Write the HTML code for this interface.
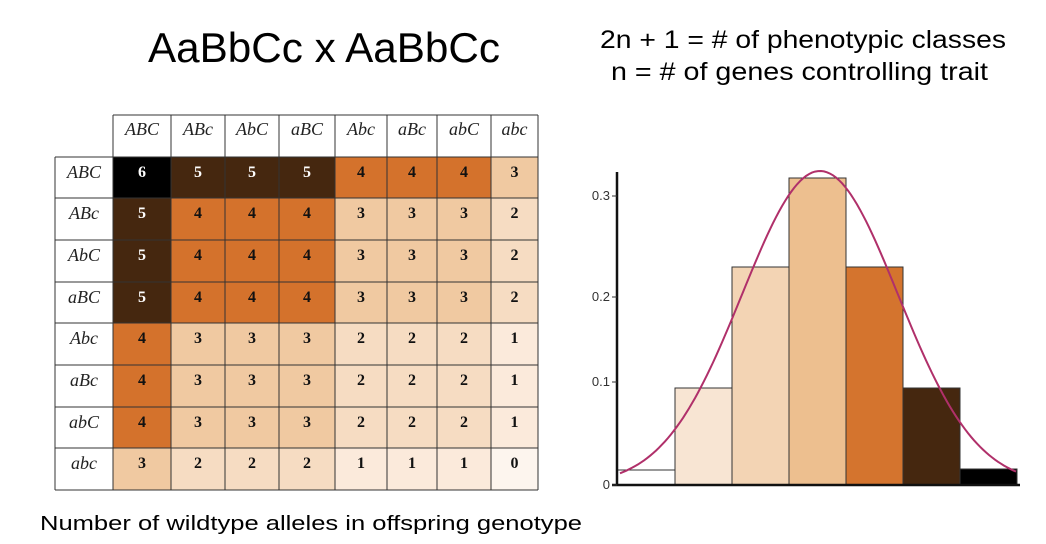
<!DOCTYPE html>
<html><head><meta charset="utf-8"><style>
html,body{margin:0;padding:0;background:#fff;}
svg{display:block;}
</style></head><body>
<svg id="s" width="1046" height="544" viewBox="0 0 1046 544" xmlns="http://www.w3.org/2000/svg" font-family="Liberation Sans, sans-serif">
<rect width="1046" height="544" fill="#fff"/>
<text x="148" y="62" font-size="42" textLength="352" lengthAdjust="spacingAndGlyphs">AaBbCc x AaBbCc</text>
<text x="600" y="48" font-size="25" textLength="406" lengthAdjust="spacingAndGlyphs">2n + 1 = # of phenotypic classes</text>
<text x="611" y="80" font-size="25" textLength="377" lengthAdjust="spacingAndGlyphs">n = # of genes controlling trait</text>
<text x="40" y="530" font-size="20" textLength="542" lengthAdjust="spacingAndGlyphs">Number of wildtype alleles in offspring genotype</text>
<g id="tbl"></g>
<g id="chart"></g>
</svg>
<script>
var NS="http://www.w3.org/2000/svg";
function el(p,t,a,txt){var e=document.createElementNS(NS,t);for(var k in a)e.setAttribute(k,a[k]);if(txt!=null)e.textContent=txt;p.appendChild(e);return e;}
var tbl=document.getElementById('tbl');
var xs=[55,113,171,225,279,335,387,437,491,538];
var ys=[115,157,198,240,282,323,365,407,448,490];
var labs=["ABC","ABc","AbC","aBC","Abc","aBc","abC","abc"];
var cnt=[3,2,2,2,1,1,1,0];
var fills=["#fdf5ee","#fbeadb","#f6dcc2","#f0c9a1","#d4722c","#45270f","#000"];
for(var r=0;r<8;r++)for(var c=0;c<8;c++){
 var v=cnt[r]+cnt[c];
 el(tbl,'rect',{x:xs[c+1],y:ys[r+1],width:xs[c+2]-xs[c+1],height:ys[r+2]-ys[r+1],fill:fills[v]});
 el(tbl,'text',{x:(xs[c+1]+xs[c+2])/2,y:ys[r+1]+20,'font-size':16,'font-weight':'bold','font-family':'Liberation Serif, serif','text-anchor':'middle',fill:v>=5?'#fff':'#111'},v);
}
for(var i=0;i<8;i++){
 el(tbl,'text',{x:(xs[i+1]+xs[i+2])/2,y:135,'font-size':18,'font-style':'italic','font-family':'Liberation Serif, serif','text-anchor':'middle',fill:'#222'},labs[i]);
 el(tbl,'text',{x:84,y:ys[i+1]+21,'font-size':18,'font-style':'italic','font-family':'Liberation Serif, serif','text-anchor':'middle',fill:'#222'},labs[i]);
}
for(var i=0;i<xs.length;i++){el(tbl,'line',{x1:xs[i],x2:xs[i],y1:i==0?ys[1]:ys[0],y2:ys[9],stroke:'#333','stroke-width':1});}
for(var i=0;i<ys.length;i++){el(tbl,'line',{x1:i==0?xs[1]:xs[0],x2:xs[9],y1:ys[i],y2:ys[i],stroke:'#333','stroke-width':1});}
var ch=document.getElementById('chart');
var bx=[617,675,732,789,846,903,960,1017];
var bt=[470,388,267,178,267,388,469];
var bf=["#fff","#f8e5d3","#f3d4b4","#edbf8f","#d4742e","#45270f","#000"];
for(var i=0;i<7;i++)el(ch,'rect',{x:bx[i],y:bt[i],width:bx[i+1]-bx[i],height:485-bt[i],fill:bf[i],stroke:'#333','stroke-width':1});
el(ch,'line',{x1:617,x2:617,y1:172,y2:486,stroke:'#111','stroke-width':2.5});
el(ch,'line',{x1:612,x2:1020,y1:485,y2:485,stroke:'#111','stroke-width':2.5});
var ticks=[[485,"0"],[382,"0.1"],[297,"0.2"],[196,"0.3"]];
ticks.forEach(function(t){el(ch,'line',{x1:612,x2:617,y1:t[0],y2:t[0],stroke:'#333'});el(ch,'text',{x:610,y:t[0]+4,'font-size':13,'text-anchor':'end',fill:'#333'},t[1]);});
var d="";for(var x=620;x<=1017;x+=3){var y=485-314*Math.exp(-Math.pow(x-820,2)/(2*78*78));d+=(x==620?"M":"L")+x+","+y.toFixed(1);}
el(ch,'path',{d:d,fill:'none',stroke:'#b0306a','stroke-width':2});
</script>
</body></html>
